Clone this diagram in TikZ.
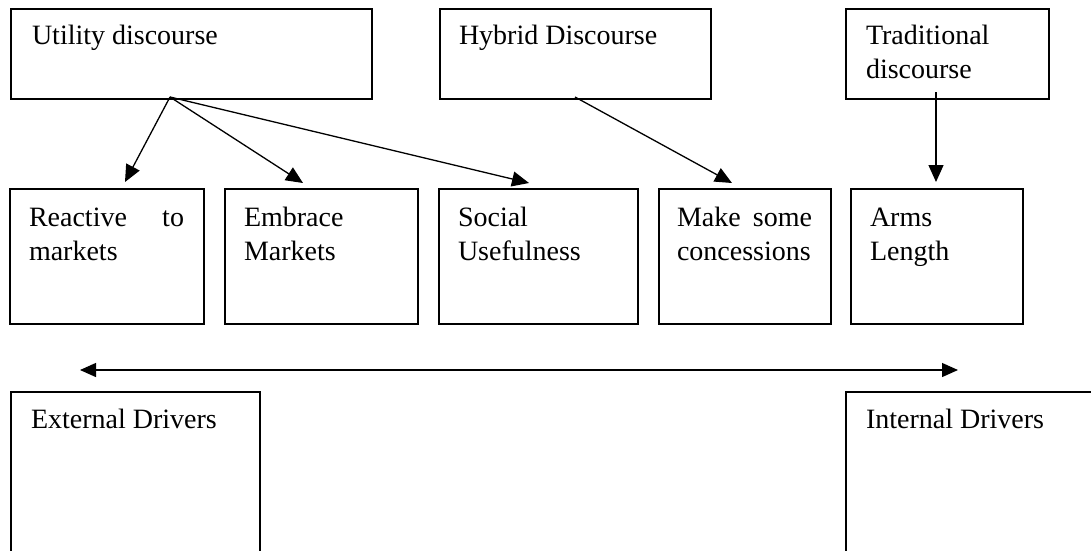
\documentclass[tikz,border=0pt]{standalone}
\usepackage{fontspec}
\setmainfont{Liberation Serif}
\usetikzlibrary{arrows.meta,calc}
\begin{document}
\begin{tikzpicture}[x=1pt,y=1pt,
  box/.style={draw=black,line width=1.2pt,anchor=north west,inner sep=0pt,outer sep=0pt},
  txt/.style={anchor=base west,inner sep=0pt,outer sep=0pt,font=\fontsize{28}{34}\selectfont},
  arr/.style={line width=1.3pt,-{Triangle[length=17pt,width=15pt]}},
  darr/.style={line width=1.3pt,{Triangle[length=16pt,width=14pt]}-{Triangle[length=16pt,width=14pt]}}]
\useasboundingbox (0,0) rectangle (1091,-550);
% top row
\node[box,minimum width=361,minimum height=90] (util) at (11,-9) {};
\node[box,minimum width=271,minimum height=90] (hyb) at (440,-9) {};
\node[box,minimum width=203,minimum height=90] (trad) at (846,-9) {};
% middle row
\node[box,minimum width=194,minimum height=135] (reac) at (10,-189) {};
\node[box,minimum width=193,minimum height=135] (emb) at (225,-189) {};
\node[box,minimum width=199,minimum height=135] (soc) at (439,-189) {};
\node[box,minimum width=172,minimum height=135] (make) at (659,-189) {};
\node[box,minimum width=172,minimum height=135] (arms) at (851,-189) {};
% bottom row
\node[box,minimum width=249,minimum height=170] (ext) at (11,-392) {};
\node[box,minimum width=260,minimum height=170] (int) at (846,-392) {};
% texts
\node[txt] (utilT) at ($(util.north west)+(21,-35)$) {Utility discourse};
\node[txt] (hybT) at ($(hyb.north west)+(19,-35)$) {Hybrid Discourse};
\node[txt] (tradT) at ($(trad.north west)+(20,-35)$) {\parbox[t]{170pt}{Traditional\\discourse}};
\node[txt] (reacT) at ($(reac.north west)+(19,-37)$) {\parbox[t]{155pt}{Reactive\hfill to\\markets}};
\node[txt] (embT) at ($(emb.north west)+(19,-37)$) {\parbox[t]{155pt}{Embrace\\Markets}};
\node[txt] (socT) at ($(soc.north west)+(19,-37)$) {\parbox[t]{160pt}{Social\\Usefulness}};
\node[txt] (makeT) at ($(make.north west)+(18,-37)$) {\parbox[t]{135pt}{Make\hfill some\\concessions}};
\node[txt] (armsT) at ($(arms.north west)+(19,-37)$) {\parbox[t]{140pt}{Arms\\Length}};
\node[txt] (extT) at ($(ext.north west)+(20,-36)$) {External Drivers};
\node[txt] (intT) at ($(int.north west)+(20,-36)$) {Internal Drivers};
% connector anchors
\coordinate (uo) at ($(util.south west)+(159,2)$);
\coordinate (ho) at ($(hyb.south west)+(135,2)$);
\coordinate (to) at ($(trad.south west)+(90,7)$);
\coordinate (reacIn) at ($(reac.north west)+(115,7)$);
\coordinate (embIn) at ($(emb.north west)+(78,6)$);
\coordinate (socIn) at ($(soc.north west)+(90,6)$);
\coordinate (makeIn) at ($(make.north west)+(73,6)$);
\coordinate (armsIn) at ($(arms.north west)+(85,7)$);
\coordinate (extEnd) at ($(ext.north west)+(69,22)$);
\coordinate (intEnd) at ($(int.north west)+(112,22)$);
% connectors
\draw[arr] (uo) -- (reacIn);
\draw[arr] (uo) -- (embIn);
\draw[arr] (uo) -- (socIn);
\draw[arr] (ho) -- (makeIn);
\draw[arr] (to) -- (armsIn);
\draw[darr] (extEnd) -- (intEnd);
\end{tikzpicture}
\end{document}
